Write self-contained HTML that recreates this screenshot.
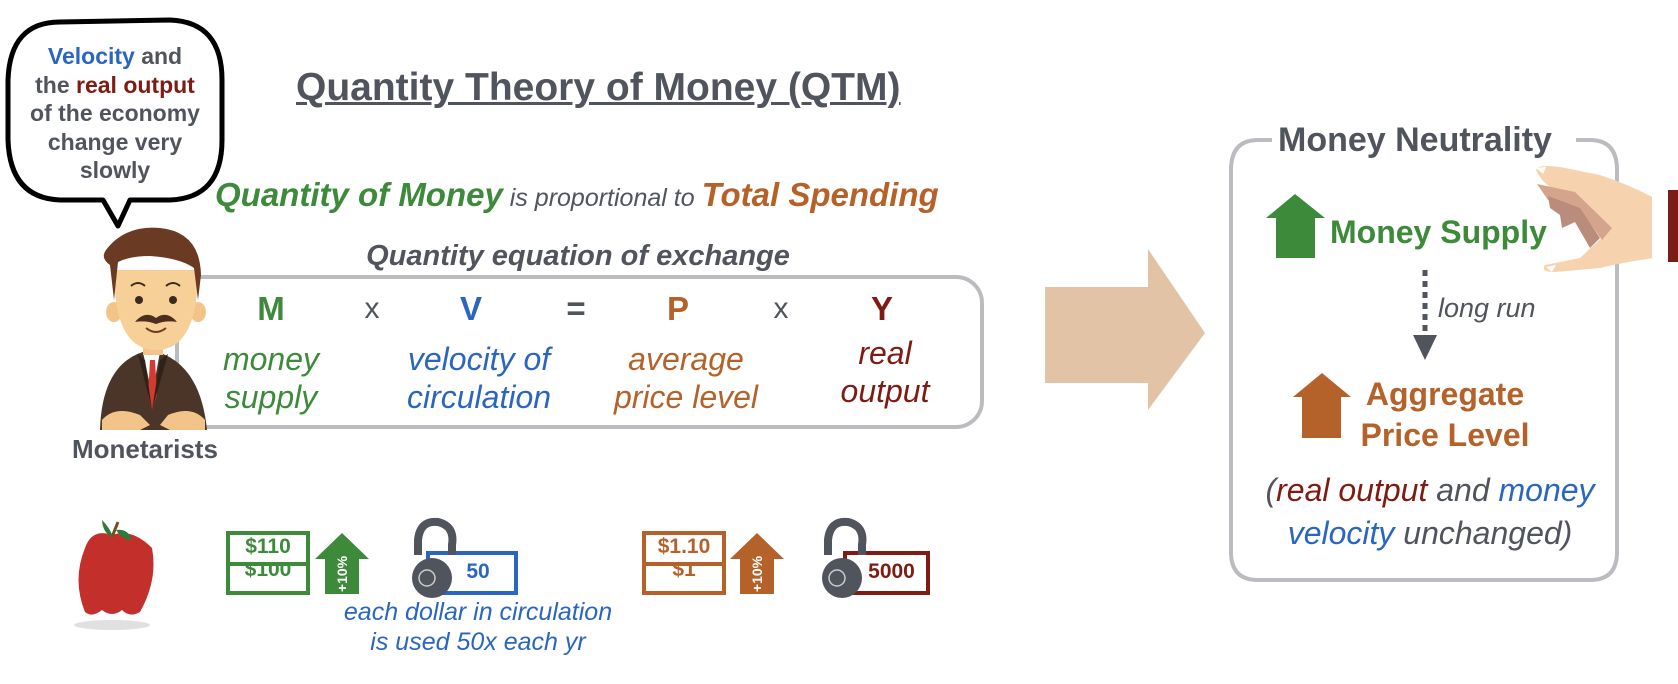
<!DOCTYPE html>
<html><head><meta charset="utf-8"><style>
body{margin:0;width:1678px;height:684px;background:#fff;position:relative;overflow:hidden;font-family:"Liberation Sans",Arial,sans-serif;}
.a{position:absolute;white-space:nowrap;}
.g{color:#3c8a3a}.b{color:#2a66c0}.o{color:#b5622a}.r{color:#7e1c14}.k{color:#50545c}
.bold{font-weight:bold}.it{font-style:italic}
.c{text-align:center}
</style></head><body>

<svg class="a" style="left:0;top:0" width="1678" height="684">
 <path d="M60,22 Q10,22 8,80 L8,140 Q10,198 60,200 L103,200 L118,226 L130,200 L170,200 Q222,198 222,140 L222,80 Q222,22 170,20 Z" fill="#fff" stroke="#000" stroke-width="5" stroke-linejoin="round"/>
 <rect x="177" y="277" width="805" height="150" rx="26" fill="none" stroke="#bbbcc0" stroke-width="4"/>
 <g>
  <path d="M100,430 Q102,360 150,350 Q200,360 207,430 Z" fill="#4a3528"/>
  <path d="M143,352 L152,352 L160,352 L152,395 Z" fill="#fff"/>
  <path d="M150,360 L155,360 L157,395 L152,410 L148,395 Z" fill="#d33b32"/>
  <path d="M138,354 L152,410 L145,360 Z M168,354 L152,410 L160,360 Z" fill="#2f2219"/>
  <path d="M102,420 Q115,405 140,415 L150,425 L140,430 L102,430 Z" fill="#f3c48a"/>
  <path d="M205,420 Q192,405 168,415 L160,425 L170,430 L205,430 Z" fill="#f3c48a"/>
  <rect x="143" y="335" width="20" height="20" fill="#f3c48a"/>
  <ellipse cx="114" cy="312" rx="8" ry="10" fill="#f3c48a"/>
  <ellipse cx="198" cy="312" rx="8" ry="10" fill="#f3c48a"/>
  <path d="M114,270 Q114,350 156,350 Q198,350 198,270 Z" fill="#f7d098"/>
  <path d="M106,250 Q125,225 160,228 Q200,232 201,275 L198,300 L194,268 Q180,258 150,256 Q130,256 118,262 L114,300 L110,265 Q100,258 106,250 Z" fill="#6a3a22"/>
  <circle cx="139" cy="300" r="4" fill="#3a2a20"/><circle cx="173" cy="300" r="4" fill="#3a2a20"/>
  <path d="M131,286 Q138,280 145,286 M166,286 Q173,280 180,286" stroke="#3a2a20" stroke-width="2" fill="none"/>
  <path d="M135,322 Q145,310 156,318 Q167,310 177,322 Q166,320 156,324 Q146,320 135,322 Z" fill="#4a2e1e"/>
  <path d="M146,328 Q156,336 166,328" stroke="#6a3a22" stroke-width="2" fill="none"/>
 </g>
 <path d="M1045,287 L1148,287 L1148,249 L1205,333 L1148,410 L1148,383 L1045,383 Z" fill="#e2c3a6"/>
 <path d="M1272,140 L1258,140 Q1231,140 1231,170 L1231,552 Q1231,580 1258,580 L1590,580 Q1617,580 1617,552 L1617,170 Q1617,140 1590,140 L1576,140" fill="none" stroke="#bbbcc0" stroke-width="4"/>
 <path d="M1266,218 L1295,194 L1325,218 L1315,218 L1315,258 L1276,258 L1276,218 Z" fill="#3c8a3a"/>
 <line x1="1425" y1="270" x2="1425" y2="332" stroke="#50545c" stroke-width="5" stroke-dasharray="6,5"/>
 <path d="M1413,335 L1437,335 L1425,360 Z" fill="#50545c"/>
 <path d="M1293,397 L1322,373 L1351,397 L1341,397 L1341,438 L1302,438 L1302,397 Z" fill="#b5622a"/>
 <g>
  <path d="M1536,170 Q1538,164 1560,167 L1600,175 Q1630,185 1654,198 L1654,258 Q1625,262 1600,268 L1555,272 Q1540,272 1545,265 L1580,258 L1612,228 L1575,200 Q1545,190 1536,170 Z" fill="#f6d3ae"/>
  <path d="M1537,184 L1575,192 L1612,228 L1602,240 L1582,212 L1548,200 Z" fill="#d4a48c"/>
  <path d="M1548,196 L1580,208 L1600,238 L1590,248 L1575,222 L1562,228 L1560,215 L1550,208 Z" fill="#b98c7c"/>
  <path d="M1536,168 L1546,167 L1543,174 Z M1546,267 L1556,265 L1552,272 Z" fill="#fff"/>
  <rect x="1652" y="195" width="18" height="63" fill="#fff"/>
  <rect x="1668" y="190" width="10" height="72" fill="#7a1d16"/>
 </g>
 <g>
  <ellipse cx="112" cy="625" rx="38" ry="5" fill="#ccc" opacity="0.6"/>
  <path d="M85,548 Q92,528 112,535 Q132,528 152,548 Q158,580 140,612 Q130,618 122,610 Q112,618 102,610 Q92,618 85,612 Q72,580 85,548 Z" fill="#c3302c"/>
  <path d="M112,537 L118,522" stroke="#7a4a22" stroke-width="3"/>
  <path d="M102,520 Q110,528 113,537 Q103,534 102,520 Z M116,530 Q128,528 132,540 Q122,540 116,530 Z" fill="#2e7a3a"/>
 </g>
 <rect x="228" y="564" width="80" height="29" fill="#fff" stroke="#3c8a3a" stroke-width="4"/>
 <rect x="228" y="533" width="80" height="31" fill="#fff" stroke="#3c8a3a" stroke-width="4"/>
 <path d="M315,559 L342,533 L369,559 L359,559 L359,594 L325,594 L325,559 Z" fill="#3c8a3a"/>
 <rect x="428" y="553" width="88" height="40" fill="#fff" stroke="#2a66c0" stroke-width="4"/>
 <g><path d="M418,555 L418,540 Q420,520 438,522 Q455,526 452,545 L452,555" fill="none" stroke="#50545c" stroke-width="8"/><circle cx="432" cy="578" r="20" fill="#50545c"/><circle cx="427" cy="578" r="8" fill="none" stroke="#ccc" stroke-width="1.5"/></g>
 <rect x="644" y="564" width="80" height="29" fill="#fff" stroke="#b5622a" stroke-width="4"/>
 <rect x="644" y="533" width="80" height="31" fill="#fff" stroke="#b5622a" stroke-width="4"/>
 <path d="M730,559 L757,533 L784,559 L774,559 L774,594 L740,594 L740,559 Z" fill="#b5622a"/>
 <rect x="845" y="553" width="83" height="40" fill="#fff" stroke="#7e1c14" stroke-width="4"/>
 <g><path d="M828,555 L828,540 Q830,520 848,522 Q865,526 862,545 L862,555" fill="none" stroke="#50545c" stroke-width="8"/><circle cx="842" cy="578" r="20" fill="#50545c"/><circle cx="837" cy="578" r="8" fill="none" stroke="#ccc" stroke-width="1.5"/></g>
</svg>

<div class="a bold c k" style="left:0px;top:42px;width:230px;font-size:23px;line-height:28.5px;"><span class="b">Velocity</span> and<br>the <span class="r">real output</span><br>of the economy<br>change very<br>slowly</div>

<div class="a bold k" style="left:296px;top:66px;font-size:39px;text-decoration:underline;text-decoration-thickness:3px;">Quantity Theory of Money (QTM)</div>

<div class="a" style="left:215px;top:176px;font-size:33px;"><span class="g bold it">Quantity of Money</span><span class="k it" style="font-size:25px"> is proportional to </span><span class="o bold it">Total Spending</span></div>

<div class="a bold it k c" style="left:328px;top:240px;width:500px;font-size:29px;">Quantity equation of exchange</div>

<div class="a bold g c" style="left:241px;top:290px;width:60px;font-size:33px;">M</div>
<div class="a k c" style="left:342px;top:292px;width:60px;font-size:30px;">x</div>
<div class="a bold b c" style="left:441px;top:290px;width:60px;font-size:33px;">V</div>
<div class="a bold k c" style="left:546px;top:290px;width:60px;font-size:33px;">=</div>
<div class="a bold o c" style="left:648px;top:290px;width:60px;font-size:33px;">P</div>
<div class="a k c" style="left:751px;top:292px;width:60px;font-size:30px;">x</div>
<div class="a bold r c" style="left:852px;top:290px;width:60px;font-size:33px;">Y</div>

<div class="a it g c" style="left:191px;top:340px;width:160px;font-size:32px;line-height:38px;">money<br>supply</div>
<div class="a it b c" style="left:379px;top:340px;width:200px;font-size:32px;line-height:38px;">velocity of<br>circulation</div>
<div class="a it o c" style="left:586px;top:340px;width:200px;font-size:32px;line-height:38px;">average<br>price level</div>
<div class="a it r c" style="left:815px;top:334px;width:140px;font-size:32px;line-height:38px;">real<br>output</div>

<div class="a bold k" style="left:72px;top:434px;font-size:26px;">Monetarists</div>

<div class="a bold g c" style="left:228px;top:535px;width:80px;font-size:21px;">$110</div>
<div class="a bold g c" style="left:228px;top:566px;width:80px;height:12px;overflow:hidden;font-size:21px;line-height:8px;">$100</div>
<div class="a bold" style="left:322px;top:566px;width:40px;font-size:14px;color:#fff;transform:rotate(-90deg);text-align:center;">+10%</div>
<div class="a bold b c" style="left:440px;top:560px;width:76px;font-size:21px;">50</div>
<div class="a it b c" style="left:313px;top:597px;width:330px;font-size:25px;line-height:30px;">each dollar in circulation<br>is used 50x each yr</div>

<div class="a bold o c" style="left:644px;top:535px;width:80px;font-size:21px;">$1.10</div>
<div class="a bold o c" style="left:644px;top:566px;width:80px;height:12px;overflow:hidden;font-size:21px;line-height:8px;">$1</div>
<div class="a bold" style="left:737px;top:566px;width:40px;font-size:14px;color:#fff;transform:rotate(-90deg);text-align:center;">+10%</div>
<div class="a bold r c" style="left:855px;top:560px;width:73px;font-size:21px;">5000</div>

<div class="a bold k" style="left:1278px;top:121px;font-size:34px;">Money Neutrality</div>
<div class="a bold g" style="left:1330px;top:214px;font-size:32px;">Money Supply</div>
<div class="a it k" style="left:1438px;top:293px;font-size:27px;">long run</div>
<div class="a bold o c" style="left:1345px;top:374px;width:200px;font-size:32px;line-height:41px;">Aggregate<br>Price Level</div>
<div class="a it k c" style="left:1240px;top:469px;width:380px;font-size:32px;line-height:43px;">(<span class="r">real output</span> and <span class="b">money</span><br><span class="b">velocity</span> unchanged)</div>

</body></html>
